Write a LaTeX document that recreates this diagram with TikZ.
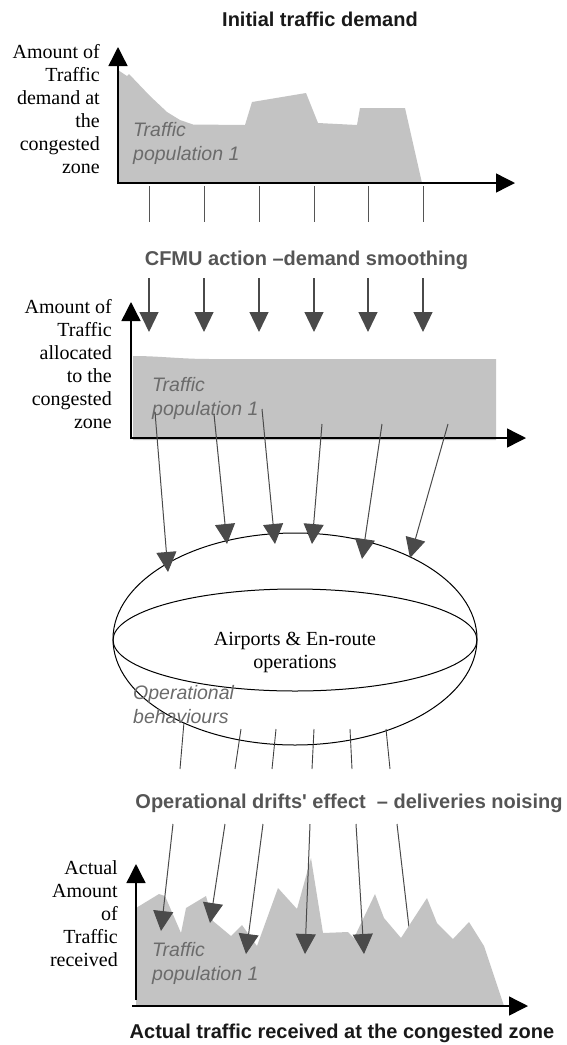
\documentclass[tikz,border=0pt]{standalone}
\usepackage{fontspec}
\setmainfont{Liberation Serif}
\newfontfamily\arial{Liberation Sans}
\usetikzlibrary{arrows.meta}
\definecolor{areagrey}{HTML}{C3C3C3}
\definecolor{arrowgrey}{HTML}{4A4A4A}
\definecolor{linegrey}{HTML}{404040}
\definecolor{textgrey}{HTML}{555555}
\definecolor{italgrey}{HTML}{6B6B6B}
\begin{document}
\begin{tikzpicture}[x=1pt,y=-1pt,
  axis/.style={line width=1.4pt, -{Triangle[length=19pt,width=19pt]}},
  tickline/.style={draw=textgrey, line width=0.9pt},
  flowarrow/.style={draw=arrowgrey, line width=1.2pt, -{Triangle[length=20pt,width=19pt]}},
  slantarrow/.style={draw=linegrey, line width=1pt, -{Triangle[length=20pt,width=20pt]}, arrowgrey},
  plainline/.style={draw=linegrey, line width=0.9pt},
  ylab/.style={align=right, anchor=base east, inner sep=0pt, font=\fontsize{20}{23}\selectfont},
  headtext/.style={anchor=base, inner sep=0pt, font=\arial\bfseries\fontsize{20}{24}\selectfont},
  poptext/.style={align=left, anchor=base west, inner sep=0pt, text=italgrey, font=\arial\itshape\fontsize{19.5}{24}\selectfont},
  ellline/.style={line width=1pt}]
\useasboundingbox (0,0) rectangle (566,1045);

% ---------- Panel 1: initial demand ----------
\node[headtext, text=black!90] (title1) at (320,26) {Initial traffic demand};
\fill[areagrey] (118,183) -- (118,70) -- (127,76) -- (129,74) -- (150,96) -- (167,112) -- (180,120) -- (193,124.5) -- (245,125) -- (252,102) -- (306,93) -- (318,123) -- (357,125) -- (360,108) -- (405,108) -- (422,183) -- cycle;
\node[poptext] (pop1) at (133,160) {Traffic\\population 1};
\coordinate (o1) at (118,184);
\coordinate (y1) at (118,47);
\coordinate (x1) at (515,183);
\draw[axis] (o1) -- (y1);
\draw[axis] (117.3,183) -- (x1);
\node[ylab] (lab1) at (100,173) {Amount of\\Traffic\\demand at\\the\\congested\\zone};
\foreach \x [count=\i] in {149,204,259,314,368,423} {
  \coordinate (ts\i) at (\x,186);
  \coordinate (te\i) at (\x,222);
  \draw[tickline] (ts\i) -- (te\i);
}

% ---------- Panel 2: smoothing ----------
\node[headtext, text=textgrey] (title2) at (306.5,265) {CFMU action \textendash demand smoothing};
\foreach \x [count=\i] in {149,204,259,314,368,423} {
  \coordinate (cs\i) at (\x,278);
  \coordinate (ce\i) at (\x,332);
  \draw[flowarrow] (cs\i) -- (ce\i);
}
\fill[areagrey] (133,440) -- (133,356) .. controls (160,356) and (180,359) .. (210,359) -- (496,359) -- (496,440) -- cycle;
\node[poptext] (pop2) at (152,415) {Traffic\\population 1};
\coordinate (o2) at (131,439);
\coordinate (y2) at (131,302);
\coordinate (x2) at (526,438);
\draw[axis] (o2) -- (y2);
\draw[axis] (130.3,438) -- (x2);
\node[ylab] (lab2) at (112,428) {Amount of\\Traffic\\allocated\\to the\\congested\\zone};

% ---------- Ellipse ----------
\draw[ellline] (295,639) ellipse [x radius=182pt, y radius=106pt];
\draw[ellline] (295,640) ellipse [x radius=182pt, y radius=51pt];
\node[align=center, anchor=base, inner sep=0pt, font=\fontsize{20}{23}\selectfont] (ops) at (295,668) {Airports \& En-route\\operations};
\node[poptext] (beh) at (133,723) {Operational\\behaviours};

% slanted arrows from panel 2 to ellipse
\coordinate (a1s) at (155,412); \coordinate (a1e) at (168,572);
\coordinate (a2s) at (214,414); \coordinate (a2e) at (227,544);
\coordinate (a3s) at (262,409); \coordinate (a3e) at (275,544);
\coordinate (a4s) at (322,424); \coordinate (a4e) at (312,544);
\coordinate (a5s) at (382,424); \coordinate (a5e) at (362,559);
\coordinate (a6s) at (448,424); \coordinate (a6e) at (410,558);
\foreach \i in {1,...,6} { \draw[slantarrow] (a\i s) -- (a\i e); }

% lines below ellipse
\coordinate (b1s) at (184,722); \coordinate (b1e) at (180,769);
\coordinate (b2s) at (241,729); \coordinate (b2e) at (235,769);
\coordinate (b3s) at (276,729); \coordinate (b3e) at (272,769);
\coordinate (b4s) at (314,729); \coordinate (b4e) at (312,769);
\coordinate (b5s) at (350,729); \coordinate (b5e) at (352,769);
\coordinate (b6s) at (386,729); \coordinate (b6e) at (390,769);
\foreach \i in {1,...,6} { \draw[plainline] (b\i s) -- (b\i e); }

% ---------- Panel 3: actual traffic ----------
\node[headtext, text=textgrey] (title3) at (349,808) {Operational drifts' effect \ \textendash{} deliveries noising};
\coordinate (d6s) at (397,824); \coordinate (d6e) at (413,962);
\draw[slantarrow] (d6s) -- (d6e);
\fill[areagrey] (136,1006) -- (136,908) -- (159,894) -- (165,896) -- (181,933) -- (186,908) -- (206,896) -- (213,921) -- (231,936) -- (242,925) -- (257,946) -- (278,888) -- (297,909) -- (311,858) -- (323,933) -- (348,932) -- (354,938) -- (375,894) -- (384,918) -- (401,938) -- (427,898) -- (437,923) -- (453,939) -- (469,922) -- (484,946) -- (504,1006) -- cycle;
\node[poptext] (pop3) at (152,980) {Traffic\\population 1};
\coordinate (d1s) at (173,824); \coordinate (d1e) at (161,931);
\coordinate (d2s) at (225,824); \coordinate (d2e) at (210,923);
\coordinate (d3s) at (263,824); \coordinate (d3e) at (246,954);
\coordinate (d4s) at (310,824); \coordinate (d4e) at (305,954);
\coordinate (d5s) at (356,824); \coordinate (d5e) at (364,954);
\foreach \i in {1,...,5} { \draw[slantarrow] (d\i s) -- (d\i e); }
\coordinate (o3) at (136,1000);
\coordinate (y3) at (136,864);
\coordinate (x3) at (528,1006);
\draw[axis] (o3) -- (y3);
\draw[axis] (132,1006) -- (x3);
\node[ylab] (lab3) at (118,966) {Actual\\Amount\\of\\Traffic\\received};
\node[headtext, text=black!90] (title4) at (342,1038) {Actual traffic received at the congested zone};
\end{tikzpicture}
\end{document}
